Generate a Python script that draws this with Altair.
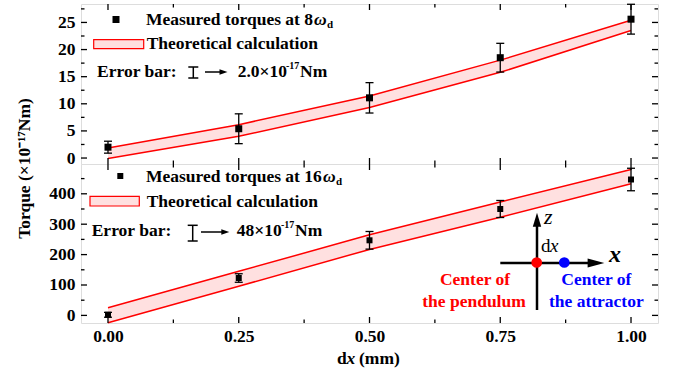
import altair as alt
import pandas as pd

SERIF = "Liberation Serif"
FS = 17.5

# ---- data ----
dx_mm = [0.0, 0.25, 0.5, 0.75, 1.0]

top_measured = [2.0, 5.4, 11.1, 18.5, 25.6]
top_error = [1.1, 2.75, 2.8, 2.65, 2.75]
top_theory_upper = [1.85, 6.15, 11.45, 18.05, 25.4]
top_theory_lower = [-0.1, 4.0, 9.3, 15.8, 23.5]

bottom_measured = [2, 123, 247, 350, 447]
bottom_error = [8, 14, 29, 28, 37]
bottom_theory_upper = [25, 145, 265, 373, 480]
bottom_theory_lower = [-24, 96, 217, 323, 433]

x_major = [0.0, 0.25, 0.5, 0.75, 1.0]
x_minor = [0.125, 0.375, 0.625, 0.875]
top_y_major = [0, 5, 10, 15, 20, 25]
top_y_minor = [2.5, 7.5, 12.5, 17.5, 22.5, 27.5]
bottom_y_major = [0, 100, 200, 300, 400]
bottom_y_minor = [50, 150, 250, 350, 450]

W = 577
H1 = 160
H2 = 159
XDOM = [-0.0516, 1.0516]
Y1DOM = [-1.1, 28.4]
Y2DOM = [-25, 498]

one = pd.DataFrame({"a": [0]})


def txt(s, x, y, size=FS, color="black", weight="bold", style="normal",
        align="left", baseline="alphabetic", angle=0):
    return alt.Chart(pd.DataFrame({"t": [s]})).mark_text(
        align=align, baseline=baseline, font=SERIF, fontSize=size,
        fontWeight=weight, fontStyle=style, color=color, angle=angle
    ).encode(x=alt.value(x), y=alt.value(y), text="t:N")


def hline(x1, x2, y, color="black", w=1.5):
    return alt.Chart(one).mark_rule(color=color, strokeWidth=w).encode(
        x=alt.value(x1), x2=alt.value(x2), y=alt.value(y))


def vline(x, y1, y2, color="black", w=1.5):
    return alt.Chart(one).mark_rule(color=color, strokeWidth=w).encode(
        x=alt.value(x), y=alt.value(y1), y2=alt.value(y2))


def sym(x, y, shape, size, color="black"):
    return alt.Chart(one).mark_point(
        shape=shape, filled=True, size=size, color=color, opacity=1, strokeWidth=0
    ).encode(x=alt.value(x), y=alt.value(y))


def rect(x1, x2, y1, y2):
    return alt.Chart(one).mark_rect(fill="#FFE0E0", stroke="#FF0000", strokeWidth=1.2).encode(
        x=alt.value(x1), x2=alt.value(x2), y=alt.value(y1), y2=alt.value(y2))


RIGHT_HEAD = lambda k: f"M1,0L-1,{k}L-1,-{k}Z"
UP_HEAD = lambda k: f"M0,-1L{k},1L-{k},1Z"


def panel(meas, err, upper, lower, ydom, H, ymaj, ymin, show_x, msize, extras):
    xs = alt.Scale(domain=XDOM, nice=False, zero=False)
    ys = alt.Scale(domain=ydom, nice=False, zero=False)
    if show_x:
        xaxis = alt.Axis(values=x_major, format=".2f", ticks=False, tickSize=0,
                         domain=False, grid=False, labelPadding=4, title=None,
                         labelFont=SERIF, labelFontSize=FS, labelFontWeight="bold",
                         labelColor="black")
    else:
        xaxis = None
    yaxis = alt.Axis(values=ymaj, ticks=False, tickSize=0, domain=False, grid=False,
                     labelPadding=6, title=None, labelFont=SERIF, labelFontSize=FS,
                     labelFontWeight="bold", labelColor="black")

    def X(f):
        return alt.X(f"{f}:Q", scale=xs, axis=xaxis)

    def Y(f):
        return alt.Y(f"{f}:Q", scale=ys, axis=yaxis)

    df = pd.DataFrame({
        "x": dx_mm, "m": meas,
        "lo": [m - e for m, e in zip(meas, err)],
        "hi": [m + e for m, e in zip(meas, err)],
        "up": upper, "low": lower,
    })
    base = alt.Chart(df)
    layers = [
        base.mark_area(color="#FFE0E0", opacity=1).encode(x=X("x"), y=Y("up"), y2=alt.Y2("low:Q")),
        base.mark_line(color="#FF0000", strokeWidth=1.5).encode(x=X("x"), y=Y("up")),
        base.mark_line(color="#FF0000", strokeWidth=1.5).encode(x=X("x"), y=Y("low")),
        base.mark_rule(color="black", strokeWidth=1.3).encode(x=X("x"), y=Y("lo"), y2=alt.Y2("hi:Q")),
        base.mark_tick(orient="horizontal", size=8, thickness=1.3, color="black", opacity=1).encode(x=X("x"), y=Y("lo")),
        base.mark_tick(orient="horizontal", size=8, thickness=1.3, color="black", opacity=1).encode(x=X("x"), y=Y("hi")),
        base.mark_point(shape="square", filled=True, size=msize, color="black", opacity=1).encode(x=X("x"), y=Y("m")),
    ]
    # frame ticks (inward)
    for vals, L in [(ymaj, 6), (ymin, 3.5)]:
        tdf = alt.Chart(pd.DataFrame({"v": vals}))
        layers.append(tdf.mark_rule(color="black", strokeWidth=1.3).encode(
            y=Y("v"), x=alt.value(0), x2=alt.value(L)))
        layers.append(tdf.mark_rule(color="black", strokeWidth=1.3).encode(
            y=Y("v"), x=alt.value(W), x2=alt.value(W - L)))
    for vals, L in [(x_major, 6), (x_minor, 3.5)]:
        tdf = alt.Chart(pd.DataFrame({"v": vals}))
        layers.append(tdf.mark_rule(color="black", strokeWidth=1.3).encode(
            x=X("v"), y=alt.value(H), y2=alt.value(H - L)))
        layers.append(tdf.mark_rule(color="black", strokeWidth=1.3).encode(
            x=X("v"), y=alt.value(0), y2=alt.value(L)))
    layers += extras
    return alt.layer(*layers).properties(width=W, height=H)


top_extras = [
    sym(35, 15.5, "square", 49),
    txt("Measured torques at 8", 65, 21),
    txt("ω", 233, 21, style="italic"),
    txt("d", 246, 24, size=11),
    rect(12.7, 62.7, 35.7, 44.7),
    txt("Theoretical calculation", 65.7, 45),
    txt("Error bar:", 16, 73),
    vline(112.3, 63, 74), hline(107.3, 117.3, 63), hline(107.3, 117.3, 74),
    hline(124, 140, 68),
    sym(142.5, 68, RIGHT_HEAD(0.7), 64),
    txt("2.0×10", 156.7, 73),
    txt("-17", 205, 65, size=10),
    txt("Nm", 219, 73),
]

bottom_extras = [
    sym(39.3, 12, "square", 36),
    txt("Measured torques at 16", 65, 18),
    txt("ω", 242, 18, style="italic"),
    txt("d", 255, 21, size=11),
    rect(9, 58.3, 32.3, 42),
    txt("Theoretical calculation", 65.7, 43),
    txt("Error bar:", 10.7, 72),
    vline(111.7, 61.3, 77), hline(106.7, 116.7, 61.3), hline(106.7, 116.7, 77),
    hline(120, 141, 68),
    sym(144.3, 68, RIGHT_HEAD(0.7), 64),
    txt("48×10", 155.7, 72),
    txt("-17", 200, 64, size=10),
    txt("Nm", 214, 72),
    # inset diagram
    vline(456, 146, 60, w=2.5),
    sym(456, 55.7, UP_HEAD(0.6), 196),
    hline(419.3, 508, 99, w=2.5),
    sym(515, 99, RIGHT_HEAD(0.55), 279),
    sym(455.7, 98.5, "circle", 115, color="#FF0000"),
    sym(483.3, 98.5, "circle", 115, color="#0000FF"),
    txt("z", 463, 59.7, size=22, weight="normal", style="italic"),
    txt("x", 528, 98, size=24, weight="bold", style="italic"),
    txt("d", 460, 88, size=19, weight="normal"),
    txt("x", 469, 88, size=19, weight="normal", style="italic"),
    txt("Center of", 394, 121.3, color="#FF0000", align="center"),
    txt("the pendulum", 393, 143, color="#FF0000", align="center"),
    txt("Center of", 515.3, 121.3, color="#0000FF", align="center"),
    txt("the attractor", 515.3, 143, color="#0000FF", align="center"),
    # axis titles
    txt("Torque (×10⁻¹⁷Nm)", -56, 4.5, angle=270, align="center", baseline="middle"),
    txt("d", 256, 200),
    txt("x", 265.5, 200, style="italic"),
    txt("(mm)", 278, 200),
]

top = panel(top_measured, top_error, top_theory_upper, top_theory_lower,
            Y1DOM, H1, top_y_major, top_y_minor, False, 49, top_extras)
bottom = panel(bottom_measured, bottom_error, bottom_theory_upper, bottom_theory_lower,
               Y2DOM, H2, bottom_y_major, bottom_y_minor, True, 36, bottom_extras)

chart = alt.vconcat(top, bottom, spacing=0, bounds="flush").properties(
    padding={"left": 15, "top": 2, "right": 5, "bottom": 5}
).configure_view(stroke="black", strokeWidth=1.5).configure(background="white")

chart.save("out.html", embed_options={"renderer": "svg", "actions": False})
